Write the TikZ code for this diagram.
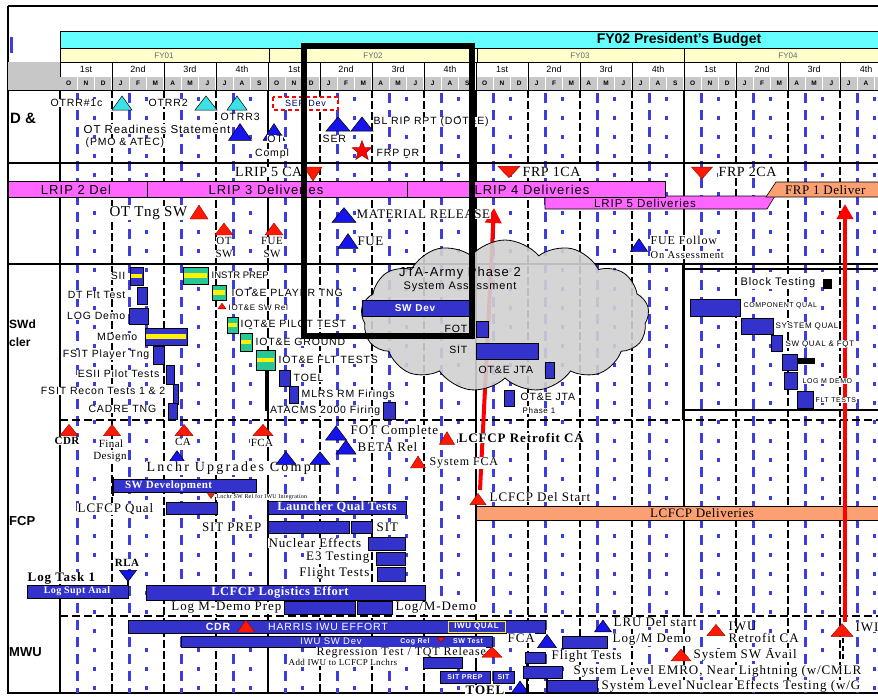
\documentclass[tikz,border=0pt]{standalone}
\usepackage{fontspec}
\setmainfont{Liberation Sans}
\newfontfamily\ssf[LetterSpace=8]{Liberation Sans}
\newfontfamily\srf[LetterSpace=4]{Liberation Serif}
\newfontfamily\srw[LetterSpace=7]{Liberation Serif}
\newfontfamily\srww[LetterSpace=16]{Liberation Serif}
\usetikzlibrary{shapes.geometric,shapes.symbols,arrows.meta}
\definecolor{hcyan}{RGB}{102,255,255}
\definecolor{hyel}{RGB}{255,255,204}
\definecolor{gblue}{RGB}{60,60,225}
\definecolor{bblue}{RGB}{51,51,204}
\definecolor{pinkb}{RGB}{255,102,255}
\definecolor{orgb}{RGB}{250,160,115}
\definecolor{tealb}{RGB}{40,200,150}
\definecolor{cyant}{RGB}{60,225,230}
\definecolor{redt}{RGB}{255,25,0}
\definecolor{blut}{RGB}{20,20,235}
\tikzset{
  tri/.pic={\path[pic actions] (-10,7) -- (10,7) -- (0,-7) -- cycle;},
  itri/.pic={\path[pic actions] (-10,-7) -- (10,-7) -- (0,7) -- cycle;},
  rt/.style={fill=redt, draw=red!60!black, line width=0.4},
  bt/.style={fill=blut, draw=black, line width=0.5},
  ct/.style={fill=cyant, draw=black, line width=0.5},
  ta/.style={font=\ssf\fontsize{10.5}{11}\selectfont, inner sep=0.5pt, fill=white},
  tsm/.style={font=\ssf\fontsize{8}{9}\selectfont, inner sep=0.5pt, fill=white},
  tr/.style={font=\srw\fontsize{13}{14}\selectfont, inner sep=0.5pt, fill=white},
  trb/.style={font=\srw\bfseries\fontsize{13}{14}\selectfont, inner sep=0.5pt, fill=white},
  nf/.style={fill=none},
  wt/.style={text=white, font=\srf\bfseries\fontsize{11}{12}\selectfont, inner sep=0},
  ws/.style={text=white, font=\ssf\fontsize{10}{11}\selectfont, inner sep=0},
  bar/.style={draw=black, line width=1, fill=bblue},
  tealbox/.style={draw=black, line width=1, fill=tealb},
  band/.style={draw=black, line width=0.6},
  bandtxt/.style={font=\ssf\fontsize{13}{14}\selectfont, inner sep=0},
  sect/.style={line width=1.6},
  sectd/.style={line width=1.6, dash pattern=on 8pt off 4pt},
  redarr/.style={red, line width=4, -{Triangle[width=16pt,length=15pt]}},
  qlab/.style={font=\fontsize{9}{10}\selectfont, inner sep=0},
  mlab/.style={font=\bfseries\fontsize{6.5}{7}\selectfont, inner sep=0},
  rowlab/.style={font=\bfseries\fontsize{15}{16}\selectfont, inner sep=0, anchor=west},
}
\newcommand\TealBox[4]{\draw[tealbox] (#1,#2) rectangle (#3,#4);
  \pgfmathsetmacro\ymid{(#2+#4)/2}\fill[yellow] (#1+1.2,\ymid-2.2) rectangle (#3-1.2,\ymid+2.2);}
\newcommand\BlueYBox[4]{\draw[bar] (#1,#2) rectangle (#3,#4);
  \pgfmathsetmacro\ymid{(#2+#4)/2}\fill[yellow] (#1+1.2,\ymid-2.2) rectangle (#3-1.2,\ymid+2.2);}
\begin{document}
\begin{tikzpicture}[x=1pt,y=-1pt]
\clip (0,0) rectangle (878,696);
\fill[white] (0,0) rectangle (878,696);
% frame
\draw[line width=1.2] (8,6) -- (880,6);
\draw[line width=1.5] (8,6) -- (8,693) -- (880,693);
\fill[gblue] (10,37) rectangle (13,53);
% header
\draw[fill=hcyan, line width=1] (60,31) rectangle (882,48);
\node[font=\bfseries\fontsize{14}{15}\selectfont, inner sep=0] (budget) at (679,40) {FY02 President's Budget};
\draw[fill=hyel, line width=0.6] (60,48) rectangle (882,62);
\foreach \fy/\xx in {FY01/164,FY02/373,FY03/580,FY04/788}{
  \node[font=\fontsize{8}{9}\selectfont, text=black!60, inner sep=0] (\fy) at (\xx,55.5) {\fy};}
\foreach \xx in {269,477,684}{\draw[line width=0.6] (\xx,48) -- (\xx,62);}
\draw[fill=white, line width=0.6] (60,62) rectangle (882,77);
\fill[black!22] (60,77) rectangle (882,90);
\fill[black!22] (8,62) rectangle (60,90);
\foreach \m in {1,...,48}{\pgfmathsetmacro\xx{60+\m*52/3}\draw[white, line width=1.2] (\xx,77) -- (\xx,90);}
\foreach \q in {1,...,16}{\pgfmathsetmacro\xx{60+52*\q}\draw[line width=0.8] (\xx,62) -- (\xx,90);}
\foreach \q in {0,...,15}{
  \pgfmathsetmacro\xx{86+52*\q}
  \pgfmathtruncatemacro\qq{mod(\q,4)}
  \node[qlab] (q\q) at (\xx,69.5) {\ifcase\qq\relax 1st\or 2nd\or 3rd\or 4th\fi};}
\foreach \ml [count=\i from 0] in {O,N,D,J,F,M,A,M,J,J,A,S,O,N,D,J,F,M,A,M,J,J,A,S,O,N,D,J,F,M,A,M,J,J,A,S,O,N,D,J,F,M,A,M,J,J,A}{
  \pgfmathsetmacro\xx{60+(\i+0.5)*52/3}
  \node[mlab] (m\i) at (\xx,83.5) {\ml};}
\draw[line width=1] (8,90) -- (882,90);
% grid
\foreach \m in {1,...,47}{%
  \pgfmathsetmacro\xx{60+\m*52/3}%
  \pgfmathtruncatemacro\r{mod(\m,3)}%
  \pgfmathtruncatemacro\f{mod(\m,12)}%
  \ifnum\f=0 \draw[line width=2.2] (\xx,90) -- (\xx,693);%
  \else\ifnum\r=0 \draw[line width=2.2, dash pattern=on 8pt off 3pt] (\xx,90) -- (\xx,693);%
  \else\ifnum\r=1 \draw[gblue, line width=2.6, dash pattern=on 10pt off 7pt] (\xx,93) -- (\xx,693);%
  \else \draw[gblue, line width=2.6, dash pattern=on 4pt off 15pt] (\xx,97) -- (\xx,693);%
  \fi\fi\fi}
% section lines
\draw[sect] (8,163) -- (880,163);
\draw[sect] (8,264) -- (880,264);
\draw[sectd] (60,420) -- (880,420);
\draw[sectd] (60,616) -- (880,616);
\draw[line width=2.5] (60,90) -- (60,693);
\draw[line width=1.6] (683,264) -- (683,420);
\draw[line width=1.6] (683,269) -- (880,269);
\draw[line width=1.6] (683,410) -- (880,410);
% row labels
\node[rowlab] (rl1) at (10,118) {D \&};
\node[rowlab, font=\bfseries\fontsize{12}{13}\selectfont] (rl2) at (9,324) {SWd};
\node[rowlab, font=\bfseries\fontsize{12}{13}\selectfont] (rl3) at (9,342) {cler};
\node[rowlab, font=\bfseries\fontsize{13}{14}\selectfont] (rl4) at (9,521) {FCP};
\node[rowlab, font=\bfseries\fontsize{13}{14}\selectfont] (rl5) at (9,652) {MWU};
% bands
\draw[band, fill=pinkb] (8,181) rectangle (147,197);
\node[bandtxt] (lrip2) at (76,189.5) {LRIP 2 Del};
\draw[band, fill=pinkb] (147,181) rectangle (407,197);
\node[bandtxt] (lrip3) at (266,189.5) {LRIP 3 Deliveries};
\draw[band, fill=pinkb] (545,196) -- (775,196) -- (767,209) -- (545,209) -- cycle;
\draw[band, fill=pinkb] (407,181) rectangle (665,197);
\node[bandtxt] (lrip4) at (532,189.5) {LRIP 4 Deliveries};
\node[bandtxt, font=\ssf\fontsize{11.5}{12}\selectfont] (lrip5) at (645,203) {LRIP 5 Deliveries};
\draw[band, fill=orgb] (766,197) -- (776,182) -- (882,182) -- (882,197) -- cycle;
\node[font=\srf\fontsize{13}{14}\selectfont, inner sep=0, anchor=west] (frp1d) at (785,190) {FRP 1 Deliver};
\draw[band, fill=orgb] (476,506) rectangle (882,520);
\node[font=\srf\fontsize{13}{14}\selectfont, inner sep=0, anchor=west] (lcdel) at (650,513.5) {LCFCP Deliveries};
% red arrows
\coordinate (a1s) at (480,490); \coordinate (a1e) at (494,208);
\draw[redarr] (a1s) -- (a1e);
\coordinate (a2s) at (845,622); \coordinate (a2e) at (845,204);
\draw[redarr] (a2s) -- (a2e);
% cloud
\node[cloud, cloud puffs=13, cloud puff arc=100, aspect=1.9, draw=black, line width=0.8, fill=black!18, fill opacity=0.9, minimum width=288, minimum height=152, inner sep=0] (cloud) at (505,316) {};
\node[font=\ssf\fontsize{13}{14}\selectfont, inner sep=0] (jta1) at (460,273) {JTA-Army Phase 2};
\node[font=\ssf\fontsize{11}{12}\selectfont, inner sep=0] (jta2) at (460,287) {System Assessment};
% ---- top row
\pic[ct] at (122,103) {tri};
\node[ta, anchor=west] (otrr1) at (50,103) {OTRR\#1c};
\pic[ct, xscale=1.1] at (206,103) {tri};
\node[ta, anchor=west] (otrr2) at (148,103) {OTRR2};
\pic[ct] at (237,103) {tri};
\node[ta, anchor=west] (otrr3) at (220,117) {OTRR3};
\node[ta, anchor=west, font=\ssf\fontsize{11.5}{12}\selectfont] (otrs) at (83,129) {OT Readiness Statement};
\node[ta, anchor=west] (pmo) at (85,143) {(PMO \& ATEC)};
\pic[bt, xscale=1.15, yscale=1.2] at (240,132) {tri};
\pic[bt, xscale=1.1, yscale=1.2] at (274,132) {tri};
\node[ta] (otc1) at (275,139) {OT};
\node[ta] (otc2) at (272,154) {Compl};
\draw[red, line width=1.8, dash pattern=on 4pt off 3pt, fill=white] (273,97) rectangle (338,110);
\node[font=\ssf\fontsize{9}{10}\selectfont, text=blue!40!black, inner sep=0] (serdev) at (305.5,103.5) {SER Dev};
\pic[bt, xscale=1.2] at (338,124) {tri};
\pic[bt, xscale=1.1] at (362,124) {tri};
\node[ta, anchor=west] (ser) at (322,139) {SER};
\node[ta, anchor=west] (blrip) at (373,122) {BL RIP RPT (DOT\&E)};
\node[star, star points=5, star point ratio=2.4, fill=red, draw=red!50!black, minimum size=21, inner sep=0] (frpdr) at (362,151) {};
\node[ta, anchor=west] (frpdrt) at (376,153) {FRP DR};
% row 2
\pic[rt, xscale=0.9] at (313,174) {itri};
\node[tr, anchor=east, font=\srf\fontsize{14}{15}\selectfont] (lrip5ca) at (303,172) {LRIP 5 CA};
\pic[rt, xscale=1.1, yscale=0.8] at (509,172) {itri};
\node[tr, anchor=west, font=\srf\fontsize{14}{15}\selectfont] (frp1ca) at (522,172) {FRP 1CA};
\pic[rt, xscale=1.05, yscale=0.85] at (702,173) {itri};
\node[tr, anchor=west, font=\srf\fontsize{14}{15}\selectfont] (frp2ca) at (718,172) {FRP 2CA};
% row 3
\node[tr, anchor=east, font=\srf\fontsize{15}{16}\selectfont] (otng) at (188,213) {OT Tng SW};
\pic[rt, xscale=0.9] at (199,212) {tri};
\pic[rt, xscale=0.9, yscale=0.85] at (224,229) {tri};
\node[tr, font=\srf\fontsize{11}{12}\selectfont] (ot2a) at (224,241) {OT};
\node[tr, font=\srf\fontsize{11}{12}\selectfont] (ot2b) at (224,254) {SW};
\pic[rt, xscale=0.9, yscale=0.85] at (274,229) {tri};
\node[tr, font=\srf\fontsize{11}{12}\selectfont] (fue2a) at (272,241) {FUE};
\node[tr, font=\srf\fontsize{11}{12}\selectfont] (fue2b) at (272,254) {SW};
\pic[bt, xscale=1.2, yscale=1.05] at (344,215) {tri};
\node[tr, anchor=west, font=\srf\fontsize{13}{14}\selectfont] (matrel) at (356,214) {MATERIAL RELEASE};
\pic[bt, yscale=1.05] at (348,241) {tri};
\node[tr, anchor=west, font=\srf\fontsize{13}{14}\selectfont] (fue) at (357,241) {FUE};
\pic[bt, xscale=0.85, yscale=0.9] at (639,245) {tri};
\node[tr, anchor=west, font=\srw\fontsize{12}{13}\selectfont] (fuef) at (650,240) {FUE Follow};
\node[tr, anchor=west, font=\srw\fontsize{10.5}{11}\selectfont] (fuef2) at (650,255) {On Assessment};
% ---- middle section: left stack
\BlueYBox{130}{267}{143}{285}
\node[ta, anchor=east] (sii) at (126,276) {SII};
\draw[bar] (137,287) rectangle (147,304);
\node[ta, anchor=east] (dtft) at (126,295) {DT Flt Test};
\draw[bar] (129,308) rectangle (148,324);
\node[ta, anchor=east] (logd) at (126,316) {LOG Demo};
\BlueYBox{145}{328}{187}{345}
\node[ta, anchor=east] (mdemo) at (138,337) {MDemo};
\draw[bar] (153,346) rectangle (164,364);
\node[ta, anchor=east] (fsitp) at (150,355) {FSIT Player Tng};
\draw[bar] (166,365) rectangle (174,384);
\node[ta, anchor=east] (esii) at (160,374) {ESII Pilot Tests};
\draw[bar] (173,384) rectangle (178,404);
\node[ta, anchor=east] (fsitr) at (166,391) {FSIT Recon Tests 1 \& 2};
\draw[bar] (168,403) rectangle (177,419);
\node[ta, anchor=east] (cadre) at (157,409) {CADRE TNG};
% IOT&E stack
\TealBox{183}{267}{208}{284}
\node[ta, anchor=west, font=\fontsize{9.5}{10}\selectfont] (instr) at (211,275) {INSTR PREP};
\TealBox{212}{285}{226}{300}
\node[ta, anchor=west] (iotp) at (231,293) {IOT\&E PLAYER TNG};
\pic[rt, scale=0.4] at (222,306) {tri};
\node[tsm, anchor=west] (iotsw) at (228,308) {IOT\&E SW Rel};
\TealBox{227}{317}{238}{333}
\node[ta, anchor=west] (iotpt) at (240,324) {IOT\&E PILOT TEST};
\TealBox{240}{333}{252}{351}
\node[ta, anchor=west] (iotg) at (255,342) {IOT\&E GROUND};
\TealBox{256}{350}{275}{370}
\draw[line width=2.2] (266,370) -- (266,411);
\node[ta, anchor=west] (iotf) at (278,360) {IOT\&E FLT TESTS};
\draw[bar] (279,370) rectangle (290,386);
\node[ta, anchor=west] (toel1) at (293,378) {TOEL};
\draw[bar] (289,386) rectangle (298,403);
\node[ta, anchor=west] (mlrs) at (301,395) {MLRS RM Firings};
\node[ta, anchor=east] (atacms) at (381,411) {ATACMS 2000 Firing};
\draw[bar] (383,402) rectangle (395,419);
% cloud contents
\draw[bar] (362,300) rectangle (470,316);
\node[ws, font=\ssf\bfseries\fontsize{10}{11}\selectfont] (swdev) at (415,308) {SW Dev};
\node[ta, nf, anchor=east] (fot) at (468,329) {FOT};
\draw[bar] (476,321) rectangle (488,337);
\node[ta, nf, anchor=east] (sit1) at (468,350) {SIT};
\draw[bar] (476,343) rectangle (538,359);
\node[ta, nf, anchor=west] (otej) at (478,370) {OT\&E JTA};
\draw[bar] (545,362) rectangle (554,378);
\draw[bar] (504,390) rectangle (514,406);
\node[ta, anchor=west] (otej2) at (520,397) {OT\&E JTA};
\node[tsm, anchor=west] (ph1) at (522,411) {Phase 1};
% block testing
\node[ta, anchor=west, font=\ssf\fontsize{11}{12}\selectfont] (blt) at (740,283) {Block Testing};
\fill[black] (823,279) rectangle (832,289);
\draw[bar] (690,299) rectangle (740,316);
\node[tsm, anchor=west, font=\ssf\fontsize{7}{8}\selectfont] (cq) at (743,306) {COMPONENT QUAL};
\draw[bar] (741,318) rectangle (773,334);
\node[tsm, anchor=west] (sq) at (775,326) {SYSTEM QUAL};
\draw[bar] (771,335) rectangle (782,351);
\node[tsm, anchor=west] (swq) at (785,344) {SW QUAL \& FQT};
\draw[bar] (782,354) rectangle (797,370);
\fill[black] (797,358) rectangle (815,364);
\draw[bar] (784,372) rectangle (797,389);
\node[tsm, anchor=west, font=\ssf\fontsize{7}{8}\selectfont] (lmd) at (802,381) {LOG M DEMO};
\draw[bar] (797,391) rectangle (813,408);
\node[tsm, anchor=west, font=\ssf\fontsize{7}{8}\selectfont] (flt) at (815,400) {FLT TESTS};
% ---- lower section
\pic[rt, xscale=0.9, yscale=0.8] at (69,430) {tri};
\node[tr, font=\srf\bfseries\fontsize{11}{12}\selectfont] (cdr1) at (67,441) {CDR};
\pic[rt, xscale=0.85, yscale=0.8] at (112,430) {tri};
\node[tr, font=\srf\fontsize{11}{12}\selectfont] (fin1) at (111,444) {Final};
\node[tr, font=\srf\fontsize{11}{12}\selectfont] (fin2) at (110,457) {Design};
\pic[rt, xscale=0.9, yscale=0.8] at (184,430) {tri};
\node[tr, font=\srf\fontsize{11}{12}\selectfont] (ca1) at (183,442) {CA};
\pic[bt, xscale=0.9, yscale=0.9] at (177,457) {tri};
\pic[rt, yscale=0.8] at (263,430) {tri};
\node[tr, font=\srf\fontsize{11}{12}\selectfont] (fca1) at (262,443) {FCA};
\node[tr, anchor=west, font=\srww\fontsize{14}{15}\selectfont] (lnchr) at (146,468) {Lnchr Upgrades Compl};
\pic[bt, yscale=0.9] at (286,458) {tri};
\pic[bt, yscale=0.9] at (320,458) {tri};
\pic[bt, xscale=1.05] at (336,433) {tri};
\node[tr, anchor=west] (fotc) at (350,431) {FOT Complete};
\pic[bt] at (346,447) {tri};
\node[tr, anchor=west] (beta) at (357,447) {BETA Rel};
\pic[rt, xscale=0.75, yscale=0.9] at (447,438) {tri};
\node[trb, anchor=west] (lcret) at (458,438) {LCFCP Retrofit CA};
\pic[rt, xscale=0.75, yscale=0.85] at (418,462) {tri};
\node[tr, anchor=west, font=\srw\fontsize{12}{13}\selectfont] (sysfca) at (429,463) {System FCA};
\pic[rt, xscale=0.8, yscale=0.8] at (478,499) {tri};
\node[tr, anchor=west] (lcds) at (489,497) {LCFCP Del Start};
\draw[line width=2.5] (476,520) -- (476,592);
% LCFCP left part
\draw[line width=2] (113,477) -- (113,496);
\draw[bar] (113,479) rectangle (256,492);
\node[wt, anchor=west] (swdevt) at (125,486) {SW Development};
\pic[rt, scale=0.35] at (211,496) {itri};
\node[font=\srf\fontsize{6}{7}\selectfont, inner sep=0.3pt, fill=white, anchor=west] (tiny) at (216,497) {Lnchr SW Rel for IWU Integration};
\node[tr, anchor=west] (lcq) at (77,509) {LCFCP Qual};
\draw[bar] (166,502) rectangle (217,514);
\draw[bar] (268,501) rectangle (406,514);
\node[wt, font=\srf\bfseries\fontsize{12.5}{13}\selectfont] (lqt) at (337,507.5) {Launcher Qual Tests};
\node[tr, anchor=east] (sitprep) at (262,527) {SIT PREP};
\draw[bar] (268,521) rectangle (349,533);
\draw[bar] (351,521) rectangle (372,533);
\node[tr, anchor=west] (sit2) at (376,527) {SIT};
\node[tr, anchor=east] (nuc) at (362,543) {Nuclear Effects};
\draw[bar] (368,537) rectangle (405,550);
\node[tr, anchor=east] (e3) at (370,558) {E3 Testing};
\draw[bar] (376,552) rectangle (405,565);
\node[tr, anchor=east] (ft1) at (370,573) {Flight Tests};
\draw[bar] (377,567) rectangle (405,581);
\node[trb, font=\srf\bfseries\fontsize{11}{12}\selectfont] (rla) at (127,563) {RLA};
\pic[bt, xscale=0.85, yscale=0.8] at (128,576) {itri};
\draw[line width=2] (128,580) -- (128,586);
\node[trb, anchor=west] (lt1) at (27,578) {Log Task 1};
\draw[bar] (27,585) rectangle (128,598);
\node[wt, font=\srf\bfseries\fontsize{10}{11}\selectfont] (lsa) at (77,591.5) {Log Supt Anal};
\draw[bar] (146,585) rectangle (425,600);
\node[wt, font=\srf\bfseries\fontsize{12.5}{13}\selectfont] (lcle) at (280,592.5) {LCFCP Logistics Effort};
\node[tr, anchor=east] (lmdp) at (282,608) {Log M-Demo Prep};
\draw[bar] (284,601) rectangle (355,614);
\draw[bar] (357,601) rectangle (392,614);
\node[tr, anchor=west] (lmd2) at (395,608) {Log/M-Demo};
% ---- bottom section
\draw[bar] (128,620) rectangle (545,633);
\node[ws, font=\ssf\bfseries\fontsize{10.5}{11}\selectfont] (cdr2) at (218,626.5) {CDR};
\pic[rt, xscale=0.85, yscale=0.85] at (246,626) {tri};
\node[ws, font=\ssf\fontsize{10.5}{11}\selectfont, anchor=west] (harris) at (268,627) {HARRIS IWU EFFORT};
\draw[yellow, line width=1, fill=bblue] (448,621) rectangle (505,632);
\node[ws, font=\ssf\bfseries\fontsize{8}{9}\selectfont] (iwuq) at (476.5,626.5) {IWU QUAL};
\draw[bar] (181,636) rectangle (492,647);
\node[ws, font=\ssf\fontsize{9.5}{10}\selectfont] (iwusw) at (331,641.5) {IWU SW Dev};
\node[ws, font=\ssf\bfseries\fontsize{7}{8}\selectfont] (cogrel) at (415,641.5) {Cog Rel};
\pic[rt, scale=0.35] at (441,640) {itri};
\node[ws, font=\ssf\bfseries\fontsize{7}{8}\selectfont] (swtest) at (468,641.5) {SW Test};
\node[tr, anchor=west, font=\srw\fontsize{12}{13}\selectfont] (regr) at (316,652.5) {Regression Test / TQT Release};
\pic[rt, yscale=0.75] at (492,652) {tri};
\node[tr, anchor=west, font=\srf\fontsize{9}{10}\selectfont] (addiwu) at (288,662) {Add IWU to LCFCP Lnchrs};
\draw[bar] (423,657) rectangle (462,668);
\draw[bar] (440,671) rectangle (490,683);
\node[ws, font=\ssf\bfseries\fontsize{7}{8}\selectfont] (sitp2) at (465,677) {SIT PREP};
\draw[bar] (493,671) rectangle (514,683);
\node[ws, font=\ssf\bfseries\fontsize{7}{8}\selectfont] (sit3) at (503.5,677) {SIT};
\node[trb, anchor=west] (toel2) at (465,690) {TOEL};
\pic[bt, xscale=0.85, yscale=0.85] at (520,687) {tri};
\node[tr, anchor=west] (fca2) at (507,638) {FCA};
\pic[bt, xscale=0.95, yscale=0.95] at (547,641) {tri};
\pic[bt, xscale=0.85, yscale=0.85] at (603,626) {tri};
\node[tr, anchor=west] (lru) at (613,622) {LRU Del start};
\draw[bar] (562,636) rectangle (607,648);
\node[tr, anchor=west] (lmd3) at (612,640) {Log/M Demo};
\pic[rt, xscale=0.9, yscale=0.8] at (716,630) {tri};
\node[tr, anchor=west, fill=none] (iwu1) at (728,626) {IWU};
\node[tr, anchor=west] (retca) at (728,638) {Retrofit CA};
\pic[rt, xscale=1.1, yscale=0.9] at (842,630) {tri};
\node[tr, anchor=west] (iwu2) at (855,627) {IWI};
\draw[line width=2.2, dash pattern=on 5pt off 3pt] (843,638) -- (843,662);
\pic[rt, yscale=0.85] at (681,655) {tri};
\node[tr, anchor=west] (ssw) at (693,655) {System SW Avail};
\draw[bar] (525,652) rectangle (545,663);
\node[tr, anchor=west] (ft2) at (551,656) {Flight Tests};
\draw[line width=1.6] (527,663) -- (527,693);
\draw[bar] (523,666) rectangle (562,678);
\node[tr, anchor=west] (emro) at (573,671) {System Level EMRO, Near Lightning (w/CMLR};
\draw[line width=1.6] (547,678) -- (547,693);
\draw[bar] (547,680) rectangle (597,692);
\node[tr, anchor=west] (nucl) at (601,686) {System Level Nuclear Effects Testing (w/G};
% highlight box
\draw[line width=6] (303.5,45.5) rectangle (472,335.5);
\end{tikzpicture}
\end{document}
